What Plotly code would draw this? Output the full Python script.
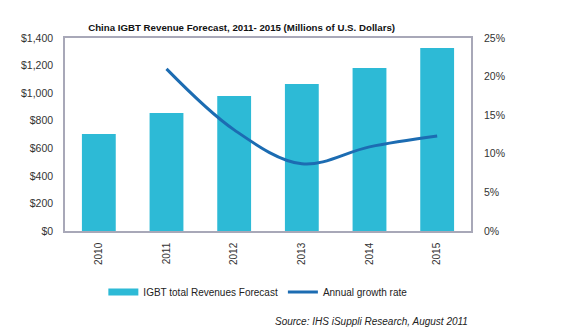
import plotly.graph_objects as go

years = ["2010", "2011", "2012", "2013", "2014", "2015"]
revenue = [703, 856, 979, 1066, 1182, 1327]
growth_years = ["2011", "2012", "2013", "2014", "2015"]
growth = [0.210, 0.131, 0.087, 0.109, 0.123]

bar_color = "#2dbad6"
line_color = "#1c6cb2"

fig = go.Figure()
fig.add_trace(go.Bar(x=years, y=revenue, name="IGBT total Revenues Forecast", showlegend=False,
                     marker=dict(color=bar_color, line=dict(width=0))))
# legend-only swatch for the bars (wide rectangle like the original)
fig.add_trace(go.Scatter(x=[None], y=[None], name="IGBT total Revenues Forecast", mode="lines",
                         line=dict(color=bar_color, width=7)))
fig.add_trace(go.Scatter(x=growth_years, y=growth, name="Annual growth rate", yaxis="y2",
                         mode="lines", line=dict(color=line_color, width=3, shape="spline", smoothing=1.0)))

fig.update_layout(
    width=562, height=331,
    margin=dict(l=65, r=91, t=38, b=100),
    paper_bgcolor="white", plot_bgcolor="white",
    font=dict(family="Liberation Sans, Arial", size=10, color="#333333"),
    bargap=0.5,
    showlegend=True,
    title=dict(text="<b>China IGBT Revenue Forecast, 2011- 2015 (Millions of U.S. Dollars)</b>",
               x=0.435, xref="paper", xanchor="center", y=0.916, yanchor="middle",
               font=dict(size=9.7, color="#111111")),
    xaxis=dict(type="category", tickangle=-90, showline=True, mirror=True, linecolor="#a8a8b8",
               linewidth=1.5, ticks="", showgrid=False, ticklabelstandoff=6,
               tickfont=dict(size=10, color="#333")),
    yaxis=dict(range=[0, 1400], dtick=200, tickprefix="$", tickformat=",d", showgrid=False,
               showline=True, mirror=True, linecolor="#a8a8b8", linewidth=1.5, ticks="",
               zeroline=False, ticklabelstandoff=8, tickfont=dict(size=10.5, color="#333")),
    yaxis2=dict(range=[0, 0.25], dtick=0.05, tickformat=".0%", overlaying="y", side="right",
                showgrid=False, showline=False, zeroline=False, ticks="",
                ticklabelstandoff=12,
                tickfont=dict(size=10.5, color="#333")),
    legend=dict(orientation="h", x=0.475, xanchor="center", y=-0.316, yanchor="middle",
                font=dict(size=10, color="#222"), itemwidth=30, traceorder="normal"),
    annotations=[dict(text="<i>Source: IHS iSuppli Research, August 2011</i>", xref="paper", yref="paper",
                      x=0.998, y=-0.47, xanchor="right", yanchor="middle", showarrow=False,
                      font=dict(size=10, color="#222"))],
)

fig.write_html("out.html")
